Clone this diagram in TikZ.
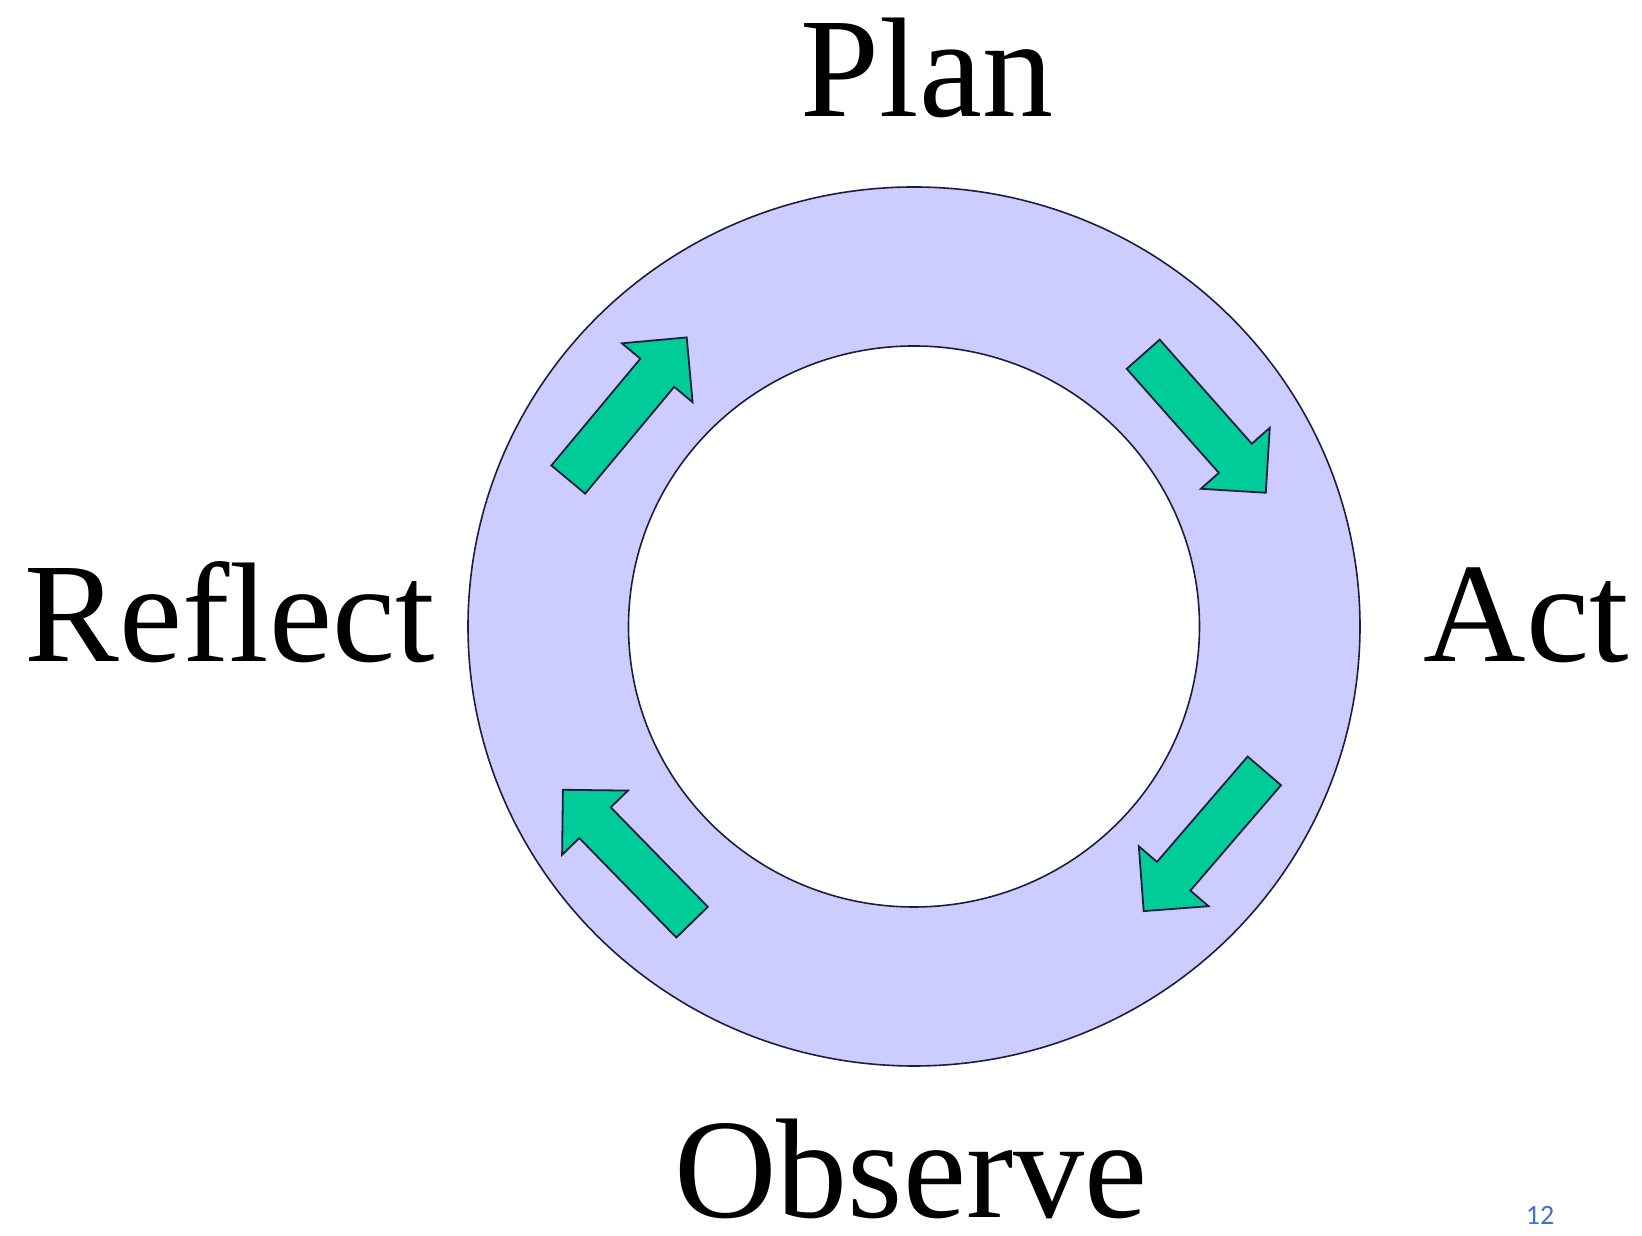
\documentclass[tikz,border=0pt]{standalone}
\usepackage{fontspec}
\setmainfont{Liberation Serif}
\newfontfamily\slidefont{Carlito}
\usepackage{tikz}
\usetikzlibrary{positioning,calc}
\definecolor{ringblue}{RGB}{204,204,255}
\definecolor{arrowgreen}{RGB}{0,204,153}
\definecolor{edgenavy}{RGB}{30,30,60}
\definecolor{pageblue}{RGB}{68,114,196}

\begin{document}
\begin{tikzpicture}[
      x=1pt, y=1pt,
      ring/.style={draw=edgenavy, line width=1.6pt, fill=ringblue, even odd rule},
      flow/.style={draw=edgenavy, line width=1.8pt, fill=arrowgreen, line join=miter},
      stage/.style={font=\fontsize{142}{142}\selectfont, anchor=base, inner sep=0pt},
      pagenum/.style={font=\slidefont\fontsize{28}{28}\selectfont, text=pageblue, anchor=base, inner sep=0pt}
  ]
  \useasboundingbox (0,0) rectangle (1642,1236);

  %% ---- Ring (outer and inner border)
  \coordinate (hub) at (914,609.5);
  \draw[ring] (hub) ellipse [x radius=446pt, y radius=439.5pt]
              (hub) ellipse [x radius=285.5pt, y radius=280.5pt];

  %% ---- Block arrows round the ring: centre x, centre y, direction
  \foreach \ax/\ay/\ang in {627.5/827.5/50.2, 1204.5/812.5/-48.5,
                            1204/395/-130.7, 627.5/380/134.3}{
    \begin{scope}[shift={(\ax,\ay)}, rotate=\ang]
      \draw[flow] (-92.5,-22) -- (46.5,-22) -- (46.5,-46) -- (92.5,0)
                  -- (46.5,46) -- (46.5,22) -- (-92.5,22) -- cycle;
    \end{scope}
  }

  %% ---- Stage labels
  \node[stage] (plan)    at (927,1119)  {Plan};
  \node[stage] (act)     at (1526,574)  {Act};
  \node[stage] (observe) at (911,18)    {Observe};
  \node[stage] (reflect) at (229.5,574) {Reflect};

  %% ---- Slide number
  \node[pagenum] (slideno) at (1540,11) {12};
\end{tikzpicture}
\end{document}
